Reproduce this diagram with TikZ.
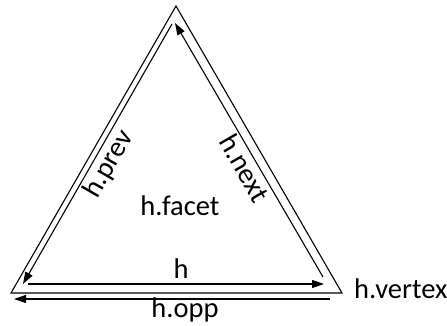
\documentclass[tikz,border=0pt]{standalone}
\usepackage{fontspec}
\setmainfont{Carlito}
\usetikzlibrary{arrows.meta}
\begin{document}
\begin{tikzpicture}[x=1pt,y=-1pt,
  edge/.style={line width=1.1pt},
  half/.style={line width=1.1pt,-{Triangle[length=12pt,width=8pt]}},
  lbl/.style={font=\fontsize{28.5}{32}\selectfont,inner sep=0pt}]
\useasboundingbox (0,0) rectangle (447,326);
% outer triangle
\coordinate (T) at (176,6);
\coordinate (BL) at (11,293);
\coordinate (BR) at (342,293);
\draw[edge,line join=miter] (T) -- (BL) -- (BR) -- cycle;
% half-edges
\coordinate (prevS) at (172,24);
\coordinate (prevE) at (23,284);
\coordinate (hS) at (28,284);
\coordinate (hE) at (324,284);
\coordinate (nextS) at (323,277);
\coordinate (nextE) at (175,23);
\coordinate (oppS) at (330,299);
\coordinate (oppE) at (14,299);
\draw[half] (prevS) -- (prevE);
\draw[half] (hS) -- (hE);
\draw[half] (nextS) -- (nextE);
\draw[half] (oppS) -- (oppE);
% labels
\node[lbl,anchor=base] (lh) at (181,278) {h};
\node[lbl,anchor=base] (lopp) at (185,317) {h.opp};
\node[lbl,anchor=base west] (lvert) at (354,298) {h.vertex};
\node[lbl,anchor=base] (lfacet) at (180,215) {h.facet};
\node[lbl,rotate=60] (lprev) at (109,164) {h.prev};
\node[lbl,rotate=-60] (lnext) at (245,168) {h.next};
\end{tikzpicture}
\end{document}
